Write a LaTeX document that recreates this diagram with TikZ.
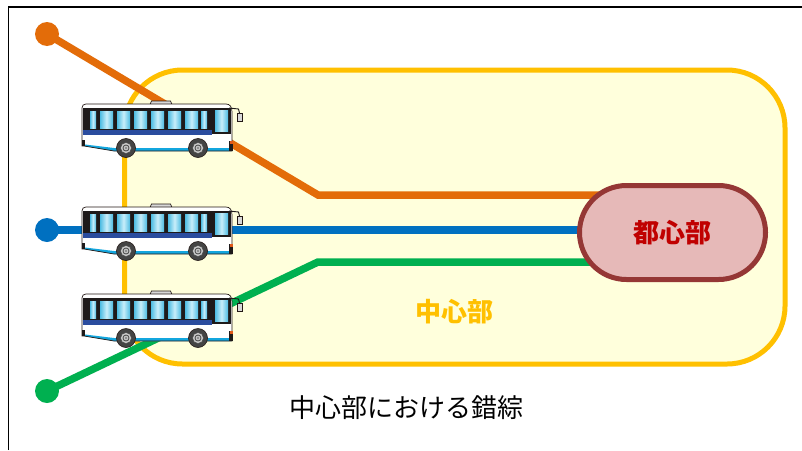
\documentclass[tikz,border=0pt]{standalone}
\usepackage{fontspec}
\newfontfamily\jp{Noto Sans CJK JP}
\usetikzlibrary{shapes.misc}
\pgfdeclarelayer{zone}
\pgfdeclarelayer{routes}
\pgfsetlayers{zone,routes,main}

\definecolor{routeorange}{HTML}{E36C09}
\definecolor{routeblue}{HTML}{0070C0}
\definecolor{routegreen}{HTML}{00B050}
\definecolor{zoneline}{HTML}{FFC000}
\definecolor{zonefill}{HTML}{FFFFDC}
\definecolor{corefill}{HTML}{E6B9B8}
\definecolor{coreline}{HTML}{953735}
\definecolor{corered}{HTML}{C00000}
\definecolor{busline}{HTML}{231815}
\definecolor{busdark}{HTML}{1E1A1A}
\definecolor{busblue}{HTML}{2A4C9E}
\definecolor{buscyan}{HTML}{13A6DE}
\definecolor{winlight}{HTML}{C8EEFA}
\definecolor{windark}{HTML}{4EBCE2}
\definecolor{roofgray}{HTML}{D8D8D8}
\definecolor{tire}{HTML}{444444}
\definecolor{rim}{HTML}{C9C9C9}
\definecolor{hub}{HTML}{8A8A8A}
\definecolor{lampred}{HTML}{E05A1A}

\tikzset{
  route/.style={line width=7.5pt},
  stopdot/.style={circle, minimum size=24pt, inner sep=0pt},
  buspart/.style={draw=busline, line width=0.7pt},
  pane/.style={left color=windark, right color=windark, middle color=winlight},
  bus/.pic={
    % roof air-conditioning unit
    \filldraw[fill=roofgray, buspart] (68,0.5) -- (69.5,-3) -- (88.5,-3) -- (90,0.5) -- cycle;
    % body shell
    \fill[white] (0,4) .. controls (0,1.5) and (1.5,0) .. (4,0) -- (144,0)
      .. controls (148,0) and (150,3) .. (150,8) -- (150,47) -- (32,47) -- (2,42) -- (0,42) -- cycle;
    % window band and front frame
    \fill[busdark] (1,4) rectangle (148,26);
    \fill[busdark] (130,4) rectangle (148.5,30);
    % blue side stripe
    \fill[busblue] (1,26) rectangle (130,31);
    % side windows and windscreen
    \foreach \a/\b in {8/14,18/31,35/48,52/65,69/82,86/99,103/116,119/125}
      \fill[pane] (\a,7) rectangle (\b,24);
    \fill[pane] (133,6) rectangle (146,27);
    % lower cyan stripe
    \fill[buscyan] (3,40.5) -- (32,44) -- (149,44) -- (149,47) -- (32,47) -- (2,42) -- cycle;
    % outline of the shell
    \draw[buspart] (0,4) .. controls (0,1.5) and (1.5,0) .. (4,0) -- (144,0)
      .. controls (148,0) and (150,3) .. (150,8) -- (150,47) -- (32,47) -- (2,42) -- (0,42) -- cycle;
    % tail lamp and front bumper
    \fill[busdark] (0,36) rectangle (3,42);
    \fill[busdark] (147,37) rectangle (151,47);
    \fill[lampred] (147.5,37) rectangle (150.5,39.5);
    % side mirror
    \draw[busdark, line width=0.9pt] (147,4) -- (156.5,5) -- (157.5,9);
    \filldraw[fill=roofgray, buspart] (155.5,9) rectangle (160,17);
    % wheels
    \foreach \w in {44,116} {
      \filldraw[fill=tire, draw=busline, line width=0.6pt] (\w,44) circle[radius=9.5pt];
      \filldraw[fill=rim, draw=tire, line width=0.5pt] (\w,44) circle[radius=5.5pt];
      \draw[tire, line width=0.8pt] (\w,44) circle[radius=3pt];
      \fill[hub] (\w,44) circle[radius=1.4pt];
    }
  }
}

\begin{document}
\begin{tikzpicture}[x=1pt, y=-1pt]
\useasboundingbox (0,0) rectangle (802,450);

% page background and central zone
\begin{pgfonlayer}{zone}
  \fill[white] (0,0) rectangle (802,450);
  \filldraw[fill=zonefill, draw=zoneline, line width=5pt, rounded corners=58pt]
    (124.5,70) rectangle (785,364);
\end{pgfonlayer}

% frame on the left and top
\draw[line width=1.8pt] (8.5,450) -- (8.5,7) -- (802,7);

\node[text=zoneline, font=\jp\bfseries\fontsize{26}{30}\selectfont] (zonelabel) at (454,312) {中心部};

% city-centre core
\node[rounded rectangle, fill=corefill, draw=coreline, line width=5pt,
      minimum width=186pt, minimum height=94pt, inner sep=0pt,
      text=corered, font=\jp\bfseries\fontsize{26}{30}\selectfont] (core) at (672.5,232.5) {都心部};

% route end stops
\node[stopdot, fill=routeorange] (os) at (47,34) {};
\node[stopdot, fill=routeblue] (bs) at (47,230) {};
\node[stopdot, fill=routegreen] (gs) at (47,391) {};
\coordinate (ob) at (318,195);
\coordinate (gb) at (318,262);

% routes into the core
\begin{pgfonlayer}{routes}
  \draw[route, routeorange] (os.center) -- (ob) -- (ob -| core.center);
  \draw[route, routeblue] (bs.center) -- (bs.center -| core.center);
  \draw[route, routegreen] (gs.center) -- (gb) -- (gb -| core.center);
\end{pgfonlayer}

% buses
\pic (busA) at (82,104) {bus};
\pic (busB) at (82,207) {bus};
\pic (busC) at (82,294) {bus};

% caption
\node[font=\jp\fontsize{26}{30}\selectfont] (caption) at (406,408) {中心部における錯綜};
\end{tikzpicture}
\end{document}
